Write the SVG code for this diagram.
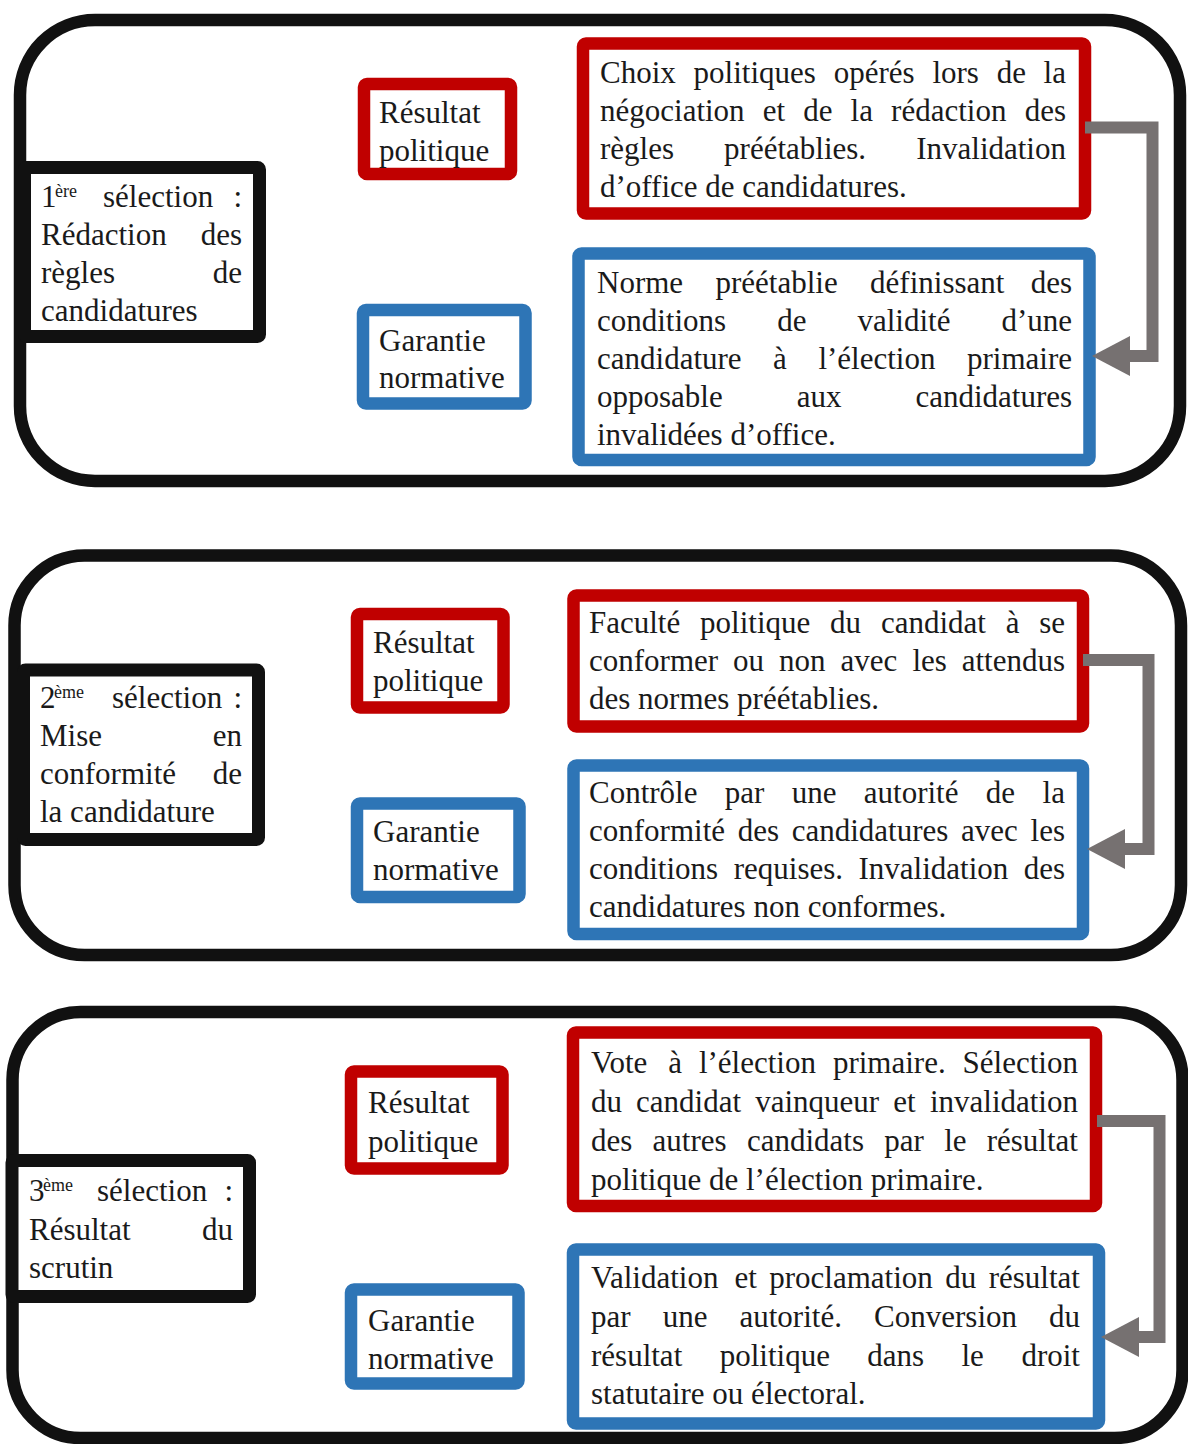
<svg xmlns="http://www.w3.org/2000/svg" width="1188" height="1444" viewBox="0 0 1188 1444">
<style>
.t{font-family:'Liberation Serif',serif;font-size:31px;fill:#1a1a1a}
.sup{font-size:18px}
.panel{fill:#fff;stroke:#111;stroke-width:12.5}
.lab{fill:#fff;stroke:#111;stroke-width:13}
.red{fill:#fff;stroke:#c00000;stroke-width:12.5}
.blue{fill:#fff;stroke:#2e75b6;stroke-width:12.5}
.conn{fill:none;stroke:#767171;stroke-width:12;marker-end:url(#ah)}
</style>
<defs>
<marker id="ah" markerUnits="userSpaceOnUse" markerWidth="40" markerHeight="42" refX="0" refY="20" orient="auto" viewBox="0 0 40 40">
<path d="M0,0 L38,20 L0,40 z" fill="#767171"/>
</marker>
</defs>
<rect width="1188" height="1444" fill="#fff"/>

<!-- Panel 1 -->
<g id="panel1"><rect class="panel" x="20" y="20" width="1160" height="461" rx="75"/></g>
<g id="sel1">
<rect class="lab" x="24.5" y="167.5" width="235" height="169" rx="2"/>
<text class="t"><tspan x="41" y="207">1</tspan><tspan class="sup" x="55" y="197">ère</tspan> <tspan x="103" y="207">sélection</tspan> <tspan x="233.4" y="207">:</tspan></text>
<text class="t" y="245"><tspan x="41">Rédaction</tspan> <tspan x="200.7">des</tspan></text>
<text class="t" y="283"><tspan x="41">règles</tspan> <tspan x="212.7">de</tspan></text>
<text class="t" x="41" y="321">candidatures</text>
</g>
<g id="res1">
<rect class="red" x="364" y="84" width="147" height="90" rx="3"/>
<text class="t" x="379" y="123">Résultat</text>
<text class="t" x="379" y="161">politique</text>
</g>
<g id="gar1">
<rect class="blue" x="363" y="310" width="162.5" height="93.5" rx="3"/>
<text class="t" x="379" y="351">Garantie</text>
<text class="t" x="379" y="388">normative</text>
</g>
<g id="txtres1">
<rect class="red" x="583" y="43.5" width="502" height="170" rx="3"/>
<text class="t" y="83"><tspan x="600">Choix</tspan> <tspan x="693.6">politiques</tspan> <tspan x="833.7">opérés</tspan> <tspan x="932.4">lors</tspan> <tspan x="996.7">de</tspan> <tspan x="1043.6">la</tspan></text>
<text class="t" y="121"><tspan x="600">négociation</tspan> <tspan x="762.7">et</tspan> <tspan x="803.2">de</tspan> <tspan x="850.6">la</tspan> <tspan x="891.1">rédaction</tspan> <tspan x="1024.7">des</tspan></text>
<text class="t" y="159"><tspan x="600">règles</tspan> <tspan x="724.1">préétablies.</tspan> <tspan x="916.2">Invalidation</tspan></text>
<text class="t" x="600" y="197">d’office de candidatures.</text>
</g>
<g id="txtgar1">
<rect class="blue" x="578.5" y="253.5" width="511" height="206.5" rx="3"/>
<text class="t" y="293"><tspan x="597">Norme</tspan> <tspan x="715.5">préétablie</tspan> <tspan x="870.1">définissant</tspan> <tspan x="1030.7">des</tspan></text>
<text class="t" y="331"><tspan x="597">conditions</tspan> <tspan x="777.2">de</tspan> <tspan x="857.5">validité</tspan> <tspan x="1001.4">d’une</tspan></text>
<text class="t" y="369"><tspan x="597">candidature</tspan> <tspan x="773.1">à</tspan> <tspan x="818.4">l’élection</tspan> <tspan x="967">primaire</tspan></text>
<text class="t" y="407"><tspan x="597">opposable</tspan> <tspan x="796.7">aux</tspan> <tspan x="915.4">candidatures</tspan></text>
<text class="t" x="597" y="445">invalidées d’office.</text>
</g>

<!-- Panel 2 -->
<g id="panel2"><rect class="panel" x="14.5" y="555.5" width="1166.5" height="399.5" rx="70"/></g>
<g id="sel2">
<rect class="lab" x="23.5" y="670" width="235" height="169.5" rx="2"/>
<text class="t"><tspan x="40" y="708">2</tspan><tspan class="sup" x="54" y="698">ème</tspan> <tspan x="112" y="708">sélection</tspan> <tspan x="233.4" y="708">:</tspan></text>
<text class="t" y="746"><tspan x="40">Mise</tspan> <tspan x="212.7">en</tspan></text>
<text class="t" y="784"><tspan x="40">conformité</tspan> <tspan x="212.7">de</tspan></text>
<text class="t" x="40" y="822">la candidature</text>
</g>
<g id="res2">
<rect class="red" x="357" y="614" width="146.5" height="93.5" rx="3"/>
<text class="t" x="373" y="653">Résultat</text>
<text class="t" x="373" y="691">politique</text>
</g>
<g id="gar2">
<rect class="blue" x="357" y="803.5" width="162.5" height="93.5" rx="3"/>
<text class="t" x="373" y="842">Garantie</text>
<text class="t" x="373" y="880">normative</text>
</g>
<g id="txtres2">
<rect class="red" x="573.5" y="595.5" width="509.5" height="131" rx="3"/>
<text class="t" y="633"><tspan x="589">Faculté</tspan> <tspan x="700.1">politique</tspan> <tspan x="830.1">du</tspan> <tspan x="880.9">candidat</tspan> <tspan x="1005.7">à</tspan> <tspan x="1039.2">se</tspan></text>
<text class="t" y="671"><tspan x="589">conformer</tspan> <tspan x="733.1">ou</tspan> <tspan x="779.1">non</tspan> <tspan x="840.6">avec</tspan> <tspan x="912.4">les</tspan> <tspan x="961.7">attendus</tspan></text>
<text class="t" x="589" y="709">des normes préétablies.</text>
</g>
<g id="txtgar2">
<rect class="blue" x="573.5" y="765.5" width="509.5" height="168.5" rx="3"/>
<text class="t" y="803"><tspan x="589">Contrôle</tspan> <tspan x="724.8">par</tspan> <tspan x="791.7">une</tspan> <tspan x="863.8">autorité</tspan> <tspan x="985.8">de</tspan> <tspan x="1042.6">la</tspan></text>
<text class="t" y="841"><tspan x="589">conformité</tspan> <tspan x="737.7">des</tspan> <tspan x="791.7">candidatures</tspan> <tspan x="961">avec</tspan> <tspan x="1030.6">les</tspan></text>
<text class="t" y="879"><tspan x="589">conditions</tspan> <tspan x="733.7">requises.</tspan> <tspan x="858.5">Invalidation</tspan> <tspan x="1023.7">des</tspan></text>
<text class="t" x="589" y="917">candidatures non conformes.</text>
</g>

<!-- Panel 3 -->
<g id="panel3"><rect class="panel" x="12.5" y="1012" width="1170" height="426" rx="68"/></g>
<g id="sel3">
<rect class="lab" x="12" y="1160.5" width="237.5" height="136" rx="2"/>
<text class="t"><tspan x="29" y="1201">3</tspan><tspan class="sup" x="43" y="1191">ème</tspan> <tspan x="97" y="1201">sélection</tspan> <tspan x="224.4" y="1201">:</tspan></text>
<text class="t" y="1240"><tspan x="29">Résultat</tspan> <tspan x="202">du</tspan></text>
<text class="t" x="29" y="1278">scrutin</text>
</g>
<g id="res3">
<rect class="red" x="351" y="1071.5" width="151.5" height="97" rx="3"/>
<text class="t" x="368" y="1113">Résultat</text>
<text class="t" x="368" y="1152">politique</text>
</g>
<g id="gar3">
<rect class="blue" x="351" y="1289.5" width="167.5" height="94" rx="3"/>
<text class="t" x="368" y="1331">Garantie</text>
<text class="t" x="368" y="1369">normative</text>
</g>
<g id="txtres3">
<rect class="red" x="573" y="1032.5" width="523" height="173.5" rx="3"/>
<text class="t" y="1073"><tspan x="591">Vote</tspan> <tspan x="668.2">à</tspan> <tspan x="698.9">l’élection</tspan> <tspan x="832.9">primaire.</tspan> <tspan x="962.6">Sélection</tspan></text>
<text class="t" y="1112"><tspan x="591">du</tspan> <tspan x="636.1">candidat</tspan> <tspan x="755.2">vainqueur</tspan> <tspan x="893.3">et</tspan> <tspan x="929.9">invalidation</tspan></text>
<text class="t" y="1151"><tspan x="591">des</tspan> <tspan x="652.6">autres</tspan> <tspan x="746.9">candidats</tspan> <tspan x="884.3">par</tspan> <tspan x="944.2">le</tspan> <tspan x="986.7">résultat</tspan></text>
<text class="t" x="591" y="1190">politique de l’élection primaire.</text>
</g>
<g id="txtgar3">
<rect class="blue" x="573" y="1249.5" width="526" height="174" rx="3"/>
<text class="t" y="1288"><tspan x="591">Validation</tspan> <tspan x="734.4">et</tspan> <tspan x="769.2">proclamation</tspan> <tspan x="945.3">du</tspan> <tspan x="988.7">résultat</tspan></text>
<text class="t" y="1327"><tspan x="591">par</tspan> <tspan x="662.7">une</tspan> <tspan x="739.5">autorité.</tspan> <tspan x="874.1">Conversion</tspan> <tspan x="1049">du</tspan></text>
<text class="t" y="1366"><tspan x="591">résultat</tspan> <tspan x="719.7">politique</tspan> <tspan x="867.3">dans</tspan> <tspan x="961.5">le</tspan> <tspan x="1021.4">droit</tspan></text>
<text class="t" x="591" y="1404">statutaire ou électoral.</text>
</g>

<!-- Connectors -->
<g id="connectors">
<path class="conn" d="M1085,127.5 H1152.5 V356 H1130"/>
<path class="conn" d="M1083,660 H1148.5 V849 H1125"/>
<path class="conn" d="M1097,1121 H1159.5 V1337 H1139"/>
</g>
</svg>
